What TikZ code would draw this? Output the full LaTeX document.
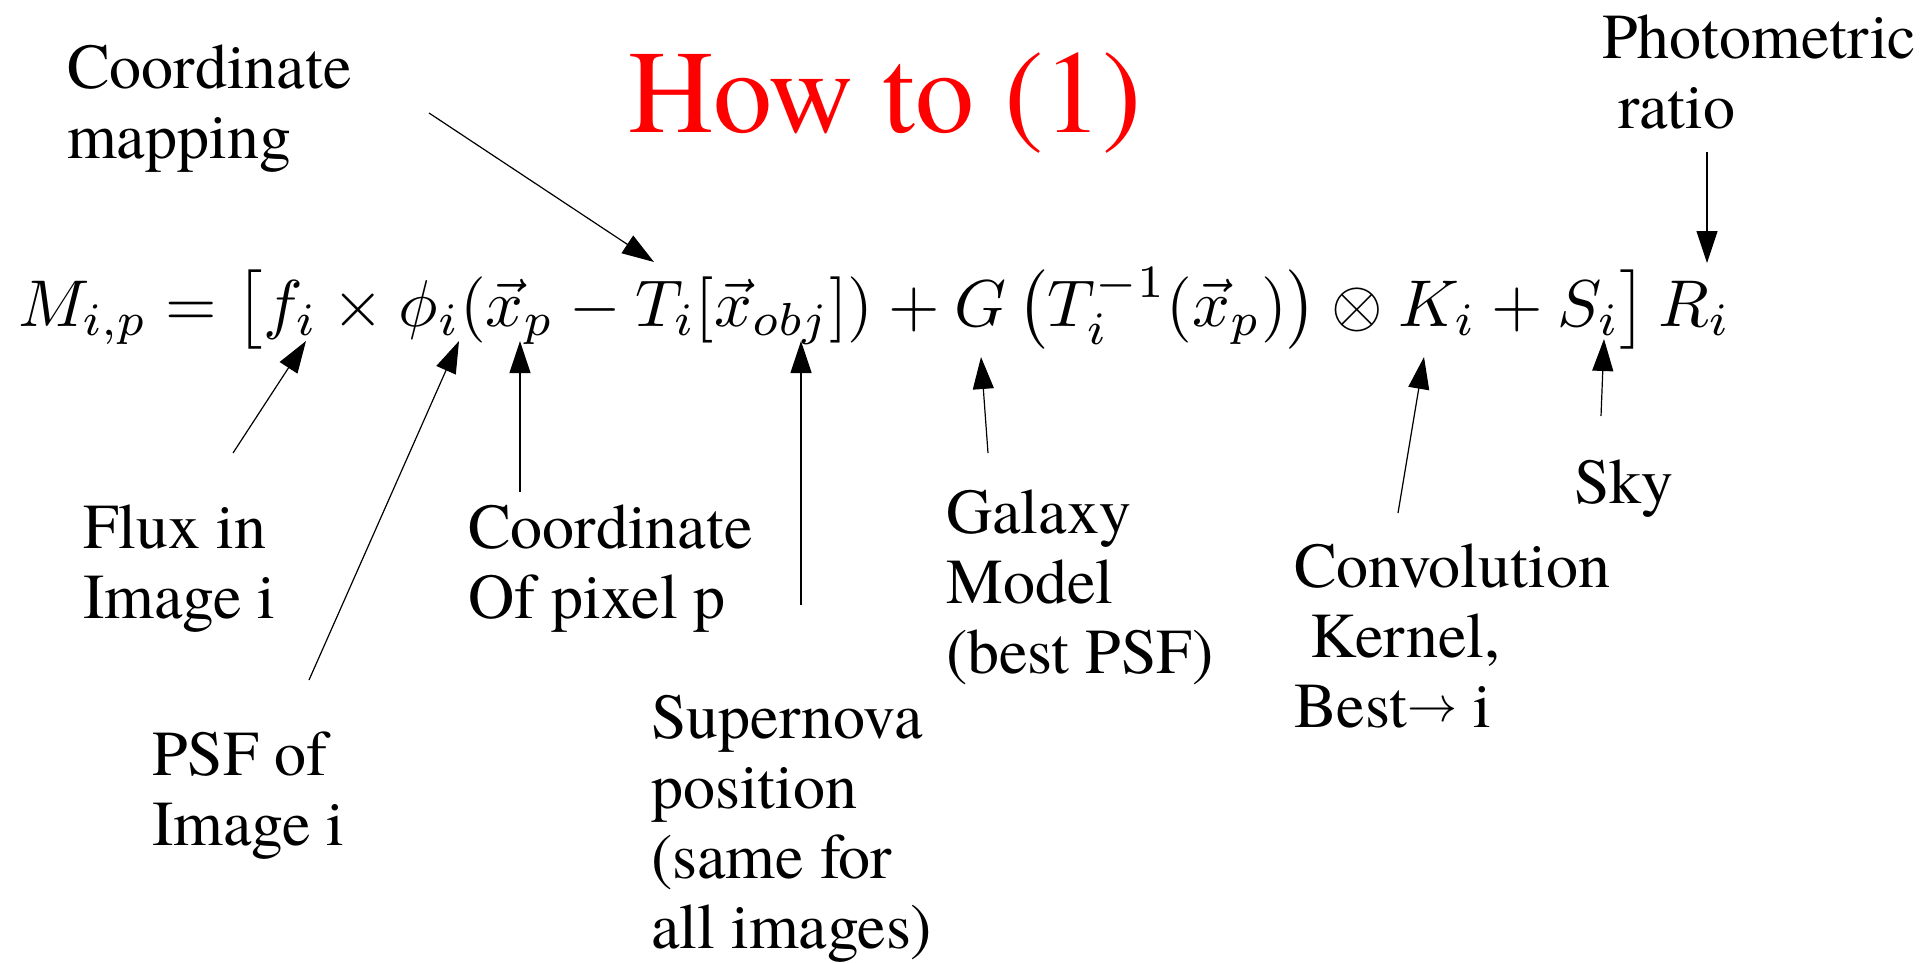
\documentclass[tikz,border=0pt]{standalone}
\usepackage[no-math]{fontspec}
\newfontfamily\tms{texgyretermes-regular.otf}
\usepackage{amsmath}
\usepackage{graphicx}
\usetikzlibrary{arrows.meta}
\newcommand\lfont{\tms\fontsize{64}{70}\selectfont}
\newcommand\stk[1]{{\lfont\begin{tabular}[t]{@{}l@{}}#1\end{tabular}}}
\newcommand\rarr{\raisebox{6pt}{\resizebox{50pt}{!}{$\rightarrow$}}}
\begin{document}
\begin{tikzpicture}[x=1pt,y=-1pt,
  lbl/.style={anchor=base west, inner sep=0pt},
  conn/.style={line width=1.2pt, -{Triangle[length=32pt,width=21pt]}}]
\useasboundingbox (0,0) rectangle (1921,962);
\fill[white] (0,0) rectangle (1921,962);
% title
\node[anchor=base west, inner sep=0pt, text=red] (title) at (628,132) {\tms\fontsize{118}{130}\selectfont How to (1)};
% equation
\node[anchor=base west, inner sep=0pt] (eq) at (18,326) {\resizebox{1712pt}{!}{$\displaystyle M_{i,p} = \left[ f_i \times \phi_i(\vec{x}_p - T_i[\vec{x}_{obj}]) + G\left(T_i^{-1}(\vec{x}_p)\right) \otimes K_i + S_i \right] R_i$}};
% labels
\node[lbl] (cmap) at (67,88) {\stk{Coordinate\\mapping}};
\node[lbl] (phot) at (1602,58) {\stk{Photometric\\\ ratio}};
\node[lbl] (flux) at (83,548) {\stk{Flux in\\Image i}};
\node[lbl] (psf) at (152,775) {\stk{PSF of\\Image i}};
\node[lbl] (cpix) at (468,548) {\stk{Coordinate\\Of pixel p}};
\node[lbl] (sn) at (651,738) {\stk{Supernova\\position\\(same for\\all images)}};
\node[lbl] (gal) at (946,533) {\stk{Galaxy\\Model\\(best PSF)}};
\node[lbl] (conv) at (1294,587) {\stk{Convolution\\\ Kernel,\\Best\rarr{} i}};
\node[lbl] (sky) at (1574,503) {\stk{Sky}};
% arrow ends
\coordinate (cmT) at (429,113);  \coordinate (cmH) at (654,262);
\coordinate (phT) at (1707,152); \coordinate (phH) at (1707,263);
\coordinate (fxT) at (233,453);  \coordinate (fxH) at (306,341);
\coordinate (psT) at (309,680);  \coordinate (psH) at (459,341);
\coordinate (cpT) at (520,492);  \coordinate (cpH) at (520,341);
\coordinate (snT) at (801,605);  \coordinate (snH) at (801,341);
\coordinate (gaT) at (988,453);  \coordinate (gaH) at (981,357);
\coordinate (cvT) at (1398,513); \coordinate (cvH) at (1424,357);
\coordinate (skT) at (1601,416); \coordinate (skH) at (1604,339);
% connectors
\draw[conn] (cmT) -- (cmH);
\draw[conn] (phT) -- (phH);
\draw[conn] (fxT) -- (fxH);
\draw[conn] (psT) -- (psH);
\draw[conn] (cpT) -- (cpH);
\draw[conn] (snT) -- (snH);
\draw[conn] (gaT) -- (gaH);
\draw[conn] (cvT) -- (cvH);
\draw[conn] (skT) -- (skH);
\end{tikzpicture}
\end{document}
